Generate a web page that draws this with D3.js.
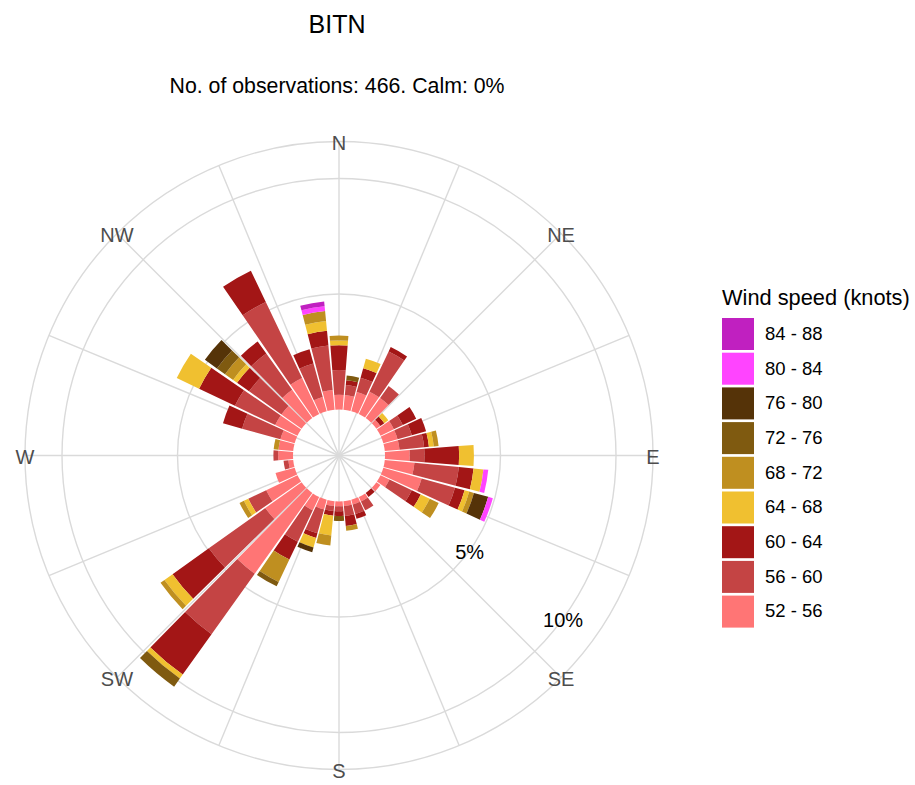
<!DOCTYPE html>
<html>
<head>
<meta charset="utf-8">
<script src="https://cdn.jsdelivr.net/npm/d3@7"></script>
<style>
  body { margin: 0; background: #fff; }
  text { font-family: "Liberation Sans", Arial, sans-serif; }
</style>
</head>
<body>
<div id="chart"></div>
<script>
(function() {

    var width = 915;
    var height = 785;

    // wind direction bins (degrees, 10 degree sectors)
    var directions = [10,20,30,40,50,60,70,80,90,100,110,120,130,140,150,160,170,180,
                      190,200,210,220,230,240,250,260,270,280,290,300,310,320,330,340,350,360];

    var speedBins = ["52 - 56","56 - 60","60 - 64","64 - 68","68 - 72","72 - 76","76 - 80","80 - 84","84 - 88"];
    var binColours = ["#ff7575","#c44444","#a31616","#f0c030","#bf8f20","#7f5a10","#553308","#ff44ff","#c020c0"];

    // frequency (%) per direction for each speed bin
    var f52 = [0.64,0.86,1.07,1.07,0.21,0.64,0.64,0.64,1.07,1.29,1.72,0.43,0.21,0,0.21,0.21,0.21,0.21,
               0.21,0.43,0.64,4.29,1.93,1.50,0.86,0.21,0.64,0.64,0.64,1.07,1.07,1.50,1.72,0.64,0.86,0.64];
    var f56 = [0.43,0.64,1.93,0.64,0,0.43,0.64,1.07,0.64,1.93,1.50,1.07,0,0,0.43,0.43,0.43,0.21,
               0.21,1.07,1.50,3.22,3.00,0.86,0,0.21,0.21,0,1.72,1.93,1.72,1.93,3.65,1.50,1.93,1.07];
    var f60 = [0.21,0.43,0.21,0,0.21,0.64,0.64,0.21,1.50,0.64,0.43,0.43,0,0.21,0,0.21,0.43,0.21,
               0.21,0.21,0.86,2.15,1.93,0,0,0,0,0,0.86,1.72,0.64,0.64,1.50,0.64,0.64,1.07];
    var f64 = [0,0.43,0,0,0.21,0,0,0.21,0.64,0.43,0.21,0.43,0,0,0,0,0,0,
               0.86,0.43,0,0.21,0.43,0.21,0,0,0,0,0,1.07,0.21,0,0,0,0.43,0.21];
    var f68 = [0,0,0,0,0,0,0,0.21,0,0,0.21,0.43,0,0,0,0,0.21,0,
               0.43,0,1.07,0,0.21,0.21,0,0,0,0.21,0,0,0.43,0,0,0,0.43,0.21];
    var f72 = [0.21,0,0,0,0,0,0,0,0,0,0,0,0,0,0,0,0,0.21,
               0,0,0.21,0.43,0,0,0,0,0,0,0,0,0.43,0,0,0,0,0];
    var f76 = [0,0,0,0,0,0,0,0,0,0,0.64,0,0,0,0,0,0,0,
               0,0.21,0,0,0,0,0,0,0,0,0,0,0.64,0,0,0,0,0];
    var f80 = [0,0,0,0,0,0,0,0,0,0.21,0.21,0,0,0,0,0,0,0,
               0,0,0,0,0,0,0,0,0,0,0,0,0,0,0,0,0.21,0];
    var f84 = [0,0,0,0,0,0,0,0,0,0,0,0,0,0,0,0,0,0,
               0,0,0,0,0,0,0,0,0,0,0,0,0,0,0,0,0.21,0];

    var compassLabels = ["N","NE","E","SE","S","SW","W","NW"];
    var gridTicks = [5, 10];

    var series = [f52, f56, f60, f64, f68, f72, f76, f80, f84];

    var rows = directions.map(function(d, i) {
        var row = { dir: d };
        speedBins.forEach(function(k, j) { row[k] = series[j][i]; });
        return row;
    });

    var cx = 339, cy = 455.5;
    var outerR = 314;

    // offset hole + linear frequency scale
    var r = d3.scaleLinear().domain([0, 10]).range([46, 277]);
    var colour = d3.scaleOrdinal().domain(speedBins).range(binColours);

    var svg = d3.select("#chart")
        .append("svg")
        .attr("width", width)
        .attr("height", height)
        .style("background", "#fff");

    var g = svg.append("g")
        .attr("transform", "translate(" + cx + "," + cy + ")");

    // grid circles
    g.selectAll("circle.grid")
        .data(gridTicks)
        .enter().append("circle")
        .attr("class", "grid")
        .attr("r", d => r(d))
        .attr("fill", "none")
        .attr("stroke", "#dadada")
        .attr("stroke-width", 1.4);

    g.append("circle")
        .attr("r", outerR)
        .attr("fill", "none")
        .attr("stroke", "#dadada")
        .attr("stroke-width", 1.4);

    // spokes every 22.5 degrees
    g.selectAll("line.spoke")
        .data(d3.range(0, 360, 22.5))
        .enter().append("line")
        .attr("class", "spoke")
        .attr("x1", 0).attr("y1", 0)
        .attr("x2", d => outerR * Math.sin(d * Math.PI / 180))
        .attr("y2", d => -outerR * Math.cos(d * Math.PI / 180))
        .attr("stroke", "#dadada")
        .attr("stroke-width", 1.4);

    // stacked bars
    var stacked = d3.stack().keys(speedBins)(rows);
    var arc = d3.arc();
    var half = 4.5 * Math.PI / 180;

    var layers = g.selectAll("g.layer")
        .data(stacked)
        .enter().append("g")
        .attr("class", "layer")
        .attr("fill", d => colour(d.key));

    layers.selectAll("path")
        .data(d => d.filter(s => s[1] - s[0] > 0))
        .enter().append("path")
        .attr("d", function(s) {
            var a = s.data.dir * Math.PI / 180;
            return arc({
                innerRadius: r(s[0]),
                outerRadius: r(s[1]),
                startAngle: a - half,
                endAngle: a + half
            });
        });

    // compass labels
    g.selectAll("text.compass")
        .data(compassLabels)
        .enter().append("text")
        .attr("class", "compass")
        .attr("x", (d, i) => outerR * Math.sin(i * 45 * Math.PI / 180))
        .attr("y", (d, i) => -outerR * Math.cos(i * 45 * Math.PI / 180) + 3)
        .attr("text-anchor", "middle")
        .attr("dominant-baseline", "middle")
        .attr("font-size", 20)
        .attr("fill", "#4d4d4d")
        .text(d => d);

    // percentage labels
    var labAngle = 126 * Math.PI / 180;
    g.selectAll("text.pct")
        .data(gridTicks)
        .enter().append("text")
        .attr("class", "pct")
        .attr("x", d => r(d) * Math.sin(labAngle))
        .attr("y", d => -r(d) * Math.cos(labAngle) + 3)
        .attr("text-anchor", "middle")
        .attr("dominant-baseline", "middle")
        .attr("font-size", 20)
        .attr("fill", "#000")
        .text(d => d + "%");

    // titles
    svg.append("text")
        .attr("x", 337).attr("y", 33)
        .attr("text-anchor", "middle")
        .attr("font-size", 25)
        .text("BITN");

    svg.append("text")
        .attr("x", 337).attr("y", 93)
        .attr("text-anchor", "middle")
        .attr("font-size", 21.3)
        .text("No. of observations: 466. Calm: 0%");

    // legend
    var legend = svg.append("g").attr("transform", "translate(722,0)");

    legend.append("text")
        .attr("x", 0).attr("y", 305)
        .attr("font-size", 21.8)
        .text("Wind speed (knots)");

    var items = legend.selectAll("g.item")
        .data(speedBins.slice().reverse())
        .enter().append("g")
        .attr("class", "item")
        .attr("transform", (d, i) => "translate(0," + (318 + i * 34.7) + ")");

    items.append("rect")
        .attr("width", 32).attr("height", 32)
        .attr("fill", d => colour(d));

    items.append("text")
        .attr("x", 43).attr("y", 17)
        .attr("dominant-baseline", "middle")
        .attr("font-size", 18.5)
        .text(d => d);

})();
</script>
</body>
</html>
